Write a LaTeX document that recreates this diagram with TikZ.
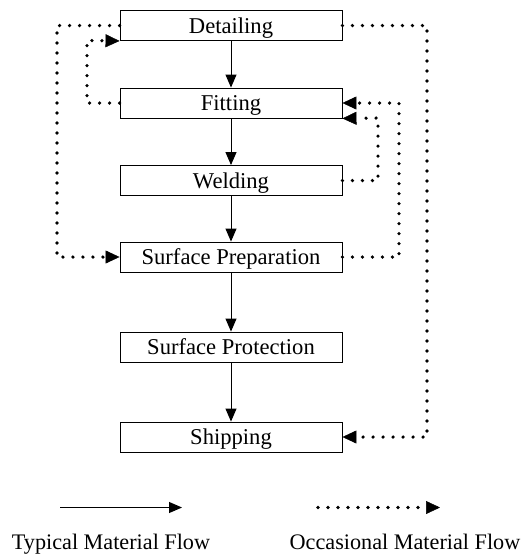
\documentclass[tikz,border=0pt]{standalone}
\usepackage{fontspec}
\setmainfont{Liberation Serif}
\usetikzlibrary{arrows.meta}

\begin{document}
\begin{tikzpicture}[x=1pt,y=-1pt,
  stage/.style={draw, line width=0.9pt, minimum width=222pt, minimum height=30pt,
    inner sep=0pt, text height=17pt, text depth=2pt, font=\fontsize{22.6}{26}\selectfont},
  typical/.style={line width=1pt, -{Triangle[length=13pt,width=11pt]}},
  occasional/.style={line width=3.6pt, line cap=round, dash pattern=on 0pt off 10pt,
    -{Triangle[length=14pt,width=13pt,line width=0.5pt]}},
  legendtext/.style={anchor=base, inner sep=0pt, font=\fontsize{22.2}{26}\selectfont}]

\useasboundingbox (0,0) rectangle (522,555);

% process stages
\node[stage] (det)  at (231,25.5)  {Detailing};
\node[stage] (fit)  at (231,103)   {Fitting};
\node[stage] (weld) at (231,180.5) {Welding};
\node[stage] (sp)   at (231,257)   {Surface Preparation};
\node[stage] (spr)  at (231,347)   {Surface Protection};
\node[stage] (ship) at (231,437)   {Shipping};

% typical flow down the line
\draw[typical] (det)  -- (fit);
\draw[typical] (fit)  -- (weld);
\draw[typical] (weld) -- (sp);
\draw[typical] (sp)   -- (spr);
\draw[typical] (spr)  -- (ship);

% bend points of the occasional routes
\coordinate (oL) at (57,257);
\coordinate (iL) at (87,40.5);
\coordinate (oR) at (427,437);
\coordinate (mR) at (399,103);
\coordinate (iR) at (378,118);

% occasional flows
\draw[occasional] (det.west)  -| (oL) -- (sp.west);
\draw[occasional] (fit.west)  -| (iL) -- (det.south west);
\draw[occasional] (det.east)  -| (oR) -- (ship.east);
\draw[occasional] (sp.east)   -| (mR) -- (fit.east);
\draw[occasional] (weld.east) -| (iR) -- (fit.south east);

% legend
\coordinate (t1) at (60,507.5);
\coordinate (t2) at (182,507.5);
\coordinate (o1) at (318,507.5);
\coordinate (o2) at (440,507.5);
\draw[typical] (t1) -- (t2);
\draw[occasional] (o1) -- (o2);
\node[legendtext] (tlab) at (111,549) {Typical Material Flow};
\node[legendtext] (olab) at (405,549) {Occasional Material Flow};
\end{tikzpicture}
\end{document}
